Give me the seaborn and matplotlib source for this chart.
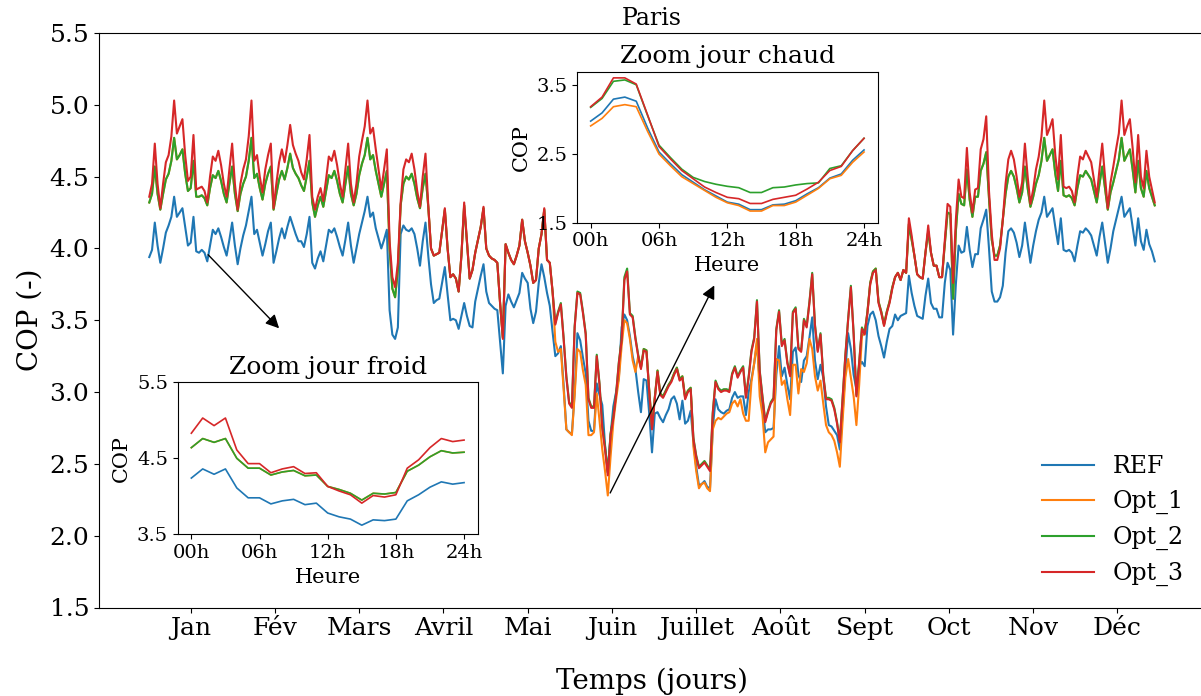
import numpy as np
import pandas as pd
import seaborn as sns
import matplotlib
matplotlib.use("Agg")
import matplotlib.pyplot as plt

# --- données journalières (COP moyen par jour) ---
ref_cop = [
    3.94, 3.99, 4.18, 4.02, 3.90, 4.00, 4.11, 4.16, 4.22, 4.36,
    4.22, 4.25, 4.28, 4.15, 4.02, 4.04, 4.22, 3.98, 3.97, 3.99,
    3.97, 3.91, 4.02, 4.13, 4.10, 4.14, 4.08, 4.01, 3.95, 4.06,
    4.18, 4.02, 3.89, 4.00, 4.09, 4.16, 4.26, 4.36, 4.10, 4.13,
    4.04, 3.95, 4.03, 4.12, 4.18, 3.90, 3.98, 4.07, 4.14, 4.07,
    4.15, 4.22, 4.16, 4.10, 4.05, 4.05, 4.01, 4.10, 4.22, 3.90,
    3.86, 3.93, 3.98, 3.91, 4.02, 4.13, 4.11, 4.14, 4.08, 4.01,
    3.95, 4.06, 4.18, 4.02, 3.90, 4.00, 4.10, 4.18, 4.26, 4.36,
    4.22, 4.25, 4.14, 4.07, 4.00, 4.06, 4.13, 3.57, 3.40, 3.37,
    3.45, 4.10, 4.16, 4.13, 4.12, 4.14, 4.10, 4.00, 3.88, 4.05,
    4.18, 3.95, 3.75, 3.62, 3.64, 3.65, 3.76, 3.87, 3.68, 3.50,
    3.51, 3.50, 3.44, 3.53, 3.62, 3.53, 3.46, 3.45, 3.63, 3.72,
    3.81, 3.89, 3.70, 3.62, 3.60, 3.58, 3.57, 3.35, 3.13, 3.60,
    3.68, 3.63, 3.59, 3.64, 3.69, 3.83, 3.79, 3.76, 3.58, 3.48,
    3.56, 3.76, 3.89, 3.80, 3.69, 3.60, 3.42, 3.25, 3.27, 3.32,
    3.05, 2.74, 2.72, 2.71, 3.00, 3.41, 3.36, 3.24, 3.13, 2.80,
    2.73, 2.73, 3.06, 2.98, 2.91, 2.63, 2.44, 2.70, 2.90, 3.00,
    3.10, 3.45, 3.54, 3.50, 3.39, 3.25, 3.16, 3.00, 2.86, 3.09,
    3.08, 2.85, 2.58, 2.85, 2.86, 2.82, 2.79, 2.84, 2.88, 2.95,
    2.97, 2.92, 2.81, 2.94, 2.78, 2.80, 2.87, 2.65, 2.48, 2.35,
    2.36, 2.38, 2.34, 2.33, 2.75, 2.95, 2.88, 2.86, 2.85, 2.87,
    2.88, 2.96, 3.00, 2.96, 2.97, 2.97, 2.84, 3.00, 3.09, 3.20,
    3.34, 3.07, 2.90, 2.72, 2.74, 2.74, 2.75, 3.12, 3.32, 3.11,
    3.17, 3.05, 2.95, 3.28, 3.31, 3.12, 3.07, 3.22, 3.25, 3.38,
    3.52, 3.22, 3.09, 3.19, 3.10, 2.90, 2.77, 2.76, 2.73, 2.70,
    2.60, 2.85, 3.15, 3.41, 3.30, 3.12, 3.02, 3.18, 3.21, 3.18,
    3.46, 3.54, 3.56, 3.50, 3.39, 3.32, 3.24, 3.35, 3.44, 3.46,
    3.54, 3.50, 3.53, 3.54, 3.55, 3.81, 3.69, 3.60, 3.53, 3.52,
    3.51, 3.67, 3.79, 3.62, 3.58, 3.58, 3.52, 3.52, 3.76, 3.90,
    3.85, 3.40, 3.75, 4.02, 3.97, 3.98, 4.15, 3.99, 3.87, 3.96,
    3.96, 4.14, 4.20, 4.27, 4.00, 3.70, 3.63, 3.63, 3.66, 3.74,
    3.97, 4.12, 4.14, 4.11, 4.04, 3.94, 4.02, 4.18, 4.04, 3.90,
    4.02, 4.12, 4.20, 4.25, 4.36, 4.22, 4.25, 4.28, 4.15, 4.03,
    4.21, 3.99, 3.98, 3.99, 3.97, 3.91, 4.02, 4.12, 4.11, 4.14,
    4.12, 4.09, 4.02, 3.95, 4.08, 4.18, 4.04, 3.90, 4.00, 4.12,
    4.20, 4.28, 4.36, 4.22, 4.25, 4.28, 4.15, 4.02, 4.21, 4.05,
    3.99, 4.13, 4.03, 3.98, 3.91,
]

opt1_cop = [
    4.32, 4.38, 4.57, 4.38, 4.27, 4.38, 4.48, 4.52, 4.61, 4.77,
    4.62, 4.65, 4.69, 4.52, 4.40, 4.42, 4.61, 4.36, 4.36, 4.37,
    4.35, 4.30, 4.42, 4.51, 4.49, 4.54, 4.47, 4.38, 4.32, 4.45,
    4.57, 4.38, 4.26, 4.38, 4.45, 4.50, 4.61, 4.77, 4.49, 4.52,
    4.42, 4.34, 4.45, 4.52, 4.57, 4.27, 4.38, 4.48, 4.54, 4.48,
    4.56, 4.66, 4.56, 4.52, 4.49, 4.44, 4.40, 4.50, 4.61, 4.32,
    4.22, 4.30, 4.36, 4.29, 4.40, 4.51, 4.49, 4.54, 4.47, 4.38,
    4.32, 4.45, 4.57, 4.38, 4.30, 4.38, 4.51, 4.59, 4.65, 4.77,
    4.62, 4.65, 4.54, 4.45, 4.36, 4.45, 4.54, 4.00, 3.72, 3.66,
    3.85, 4.30, 4.45, 4.50, 4.48, 4.52, 4.45, 4.35, 4.28, 4.42,
    4.52, 4.29, 4.00, 3.95, 3.96, 3.97, 4.12, 4.27, 4.00, 3.80,
    3.82, 3.79, 3.70, 3.95, 4.30, 4.05, 3.79, 3.85, 3.97, 4.06,
    4.15, 4.28, 4.00, 3.95, 3.93, 3.92, 3.90, 3.62, 3.38, 4.03,
    3.97, 3.92, 3.89, 3.95, 4.02, 4.20, 4.05, 3.97, 3.88, 3.76,
    3.78, 4.00, 4.10, 4.27, 3.92, 3.90, 3.70, 3.35, 3.28, 3.30,
    3.02, 2.74, 2.72, 2.70, 2.98, 3.30, 3.28, 3.15, 3.05, 2.70,
    2.70, 2.72, 2.99, 2.80, 2.60, 2.45, 2.28, 2.55, 2.79, 2.95,
    3.09, 3.32, 3.50, 3.48, 3.37, 3.22, 3.14, 3.25, 3.17, 3.30,
    3.29, 3.01, 2.76, 2.96, 3.15, 2.99, 2.97, 3.01, 3.05, 3.08,
    3.13, 3.17, 3.09, 3.11, 2.96, 3.01, 3.03, 2.62, 2.45, 2.33,
    2.36, 2.37, 2.33, 2.31, 2.74, 2.80, 2.82, 2.81, 2.83, 2.85,
    2.86, 2.92, 2.94, 2.90, 2.95, 2.85, 2.80, 2.80, 3.07, 3.20,
    3.37, 2.97, 2.84, 2.58, 2.65, 2.67, 2.69, 3.23, 3.22, 3.05,
    3.08, 2.95, 2.84, 3.19, 3.19, 2.99, 3.16, 3.14, 3.20, 3.37,
    3.30, 3.11, 3.01, 3.08, 2.92, 2.77, 2.72, 2.70, 2.66, 2.58,
    2.48, 2.80, 3.10, 3.23, 3.10, 2.97, 2.77, 3.05, 3.39, 3.41,
    3.56, 3.76, 3.84, 3.86, 3.63, 3.56, 3.47, 3.56, 3.63, 3.73,
    3.80, 3.83, 3.78, 3.85, 3.83, 4.17, 4.06, 3.95, 3.82, 3.80,
    3.79, 3.97, 4.12, 3.97, 3.88, 3.88, 3.80, 3.80, 4.03, 4.25,
    4.24, 3.65, 4.12, 4.38, 4.31, 4.30, 4.55, 4.34, 4.22, 4.36,
    4.36, 4.54, 4.59, 4.67, 4.35, 4.06, 3.95, 3.95, 4.02, 4.20,
    4.38, 4.50, 4.54, 4.50, 4.42, 4.32, 4.39, 4.57, 4.42, 4.29,
    4.36, 4.45, 4.51, 4.61, 4.77, 4.61, 4.65, 4.69, 4.52, 4.40,
    4.61, 4.37, 4.36, 4.37, 4.35, 4.30, 4.42, 4.51, 4.50, 4.54,
    4.51, 4.48, 4.40, 4.32, 4.45, 4.57, 4.42, 4.27, 4.39, 4.46,
    4.54, 4.62, 4.77, 4.61, 4.65, 4.69, 4.55, 4.39, 4.61, 4.42,
    4.36, 4.54, 4.42, 4.36, 4.30,
]

opt2_cop = [
    4.32, 4.38, 4.57, 4.38, 4.27, 4.38, 4.48, 4.52, 4.61, 4.77,
    4.62, 4.65, 4.69, 4.52, 4.40, 4.42, 4.61, 4.36, 4.36, 4.37,
    4.35, 4.30, 4.42, 4.51, 4.49, 4.54, 4.47, 4.38, 4.32, 4.45,
    4.57, 4.38, 4.26, 4.38, 4.45, 4.50, 4.61, 4.77, 4.49, 4.52,
    4.42, 4.34, 4.45, 4.52, 4.57, 4.27, 4.38, 4.48, 4.54, 4.48,
    4.56, 4.66, 4.56, 4.52, 4.49, 4.44, 4.40, 4.50, 4.61, 4.32,
    4.22, 4.30, 4.36, 4.29, 4.40, 4.51, 4.49, 4.54, 4.47, 4.38,
    4.32, 4.45, 4.57, 4.38, 4.30, 4.38, 4.51, 4.59, 4.65, 4.77,
    4.62, 4.65, 4.54, 4.45, 4.36, 4.45, 4.54, 4.00, 3.72, 3.66,
    3.85, 4.30, 4.45, 4.50, 4.48, 4.52, 4.45, 4.35, 4.28, 4.42,
    4.52, 4.29, 4.00, 3.95, 3.96, 3.97, 4.12, 4.27, 4.00, 3.80,
    3.82, 3.79, 3.70, 3.95, 4.30, 4.05, 3.79, 3.85, 3.97, 4.06,
    4.15, 4.28, 4.00, 3.95, 3.93, 3.92, 3.90, 3.62, 3.38, 4.03,
    3.97, 3.92, 3.89, 3.95, 4.02, 4.20, 4.05, 3.97, 3.88, 3.76,
    3.78, 4.00, 4.10, 4.27, 3.92, 3.90, 3.70, 3.48, 3.56, 3.62,
    3.38, 3.11, 2.93, 2.90, 3.46, 3.70, 3.69, 3.56, 3.41, 2.96,
    2.90, 2.90, 3.26, 3.06, 2.76, 2.62, 2.44, 2.71, 2.83, 2.99,
    3.21, 3.37, 3.80, 3.86, 3.55, 3.53, 3.38, 3.26, 3.17, 3.30,
    3.29, 3.01, 2.76, 2.96, 3.15, 2.99, 2.97, 3.01, 3.05, 3.08,
    3.13, 3.17, 3.09, 3.11, 2.96, 3.01, 3.03, 2.68, 2.56, 2.48,
    2.50, 2.52, 2.49, 2.46, 2.86, 3.08, 3.03, 3.01, 3.02, 3.02,
    3.01, 3.13, 3.18, 3.11, 3.15, 3.18, 2.97, 3.11, 3.29, 3.38,
    3.64, 3.15, 2.97, 2.80, 2.87, 2.93, 2.96, 3.44, 3.57, 3.33,
    3.37, 3.21, 3.12, 3.56, 3.59, 3.31, 3.29, 3.51, 3.46, 3.63,
    3.83, 3.47, 3.29, 3.41, 3.12, 2.96, 2.96, 2.95, 2.89, 2.79,
    2.66, 2.96, 3.26, 3.51, 3.74, 3.41, 2.98, 3.21, 3.45, 3.41,
    3.56, 3.76, 3.84, 3.86, 3.63, 3.56, 3.47, 3.56, 3.63, 3.73,
    3.80, 3.83, 3.78, 3.85, 3.83, 4.17, 4.06, 3.95, 3.82, 3.80,
    3.79, 3.97, 4.12, 3.97, 3.88, 3.88, 3.80, 3.80, 4.03, 4.25,
    4.24, 3.65, 4.12, 4.38, 4.31, 4.30, 4.55, 4.34, 4.22, 4.36,
    4.36, 4.54, 4.59, 4.67, 4.35, 4.06, 3.95, 3.95, 4.02, 4.20,
    4.38, 4.50, 4.54, 4.50, 4.42, 4.32, 4.39, 4.57, 4.42, 4.29,
    4.36, 4.45, 4.51, 4.61, 4.77, 4.61, 4.65, 4.69, 4.52, 4.40,
    4.61, 4.37, 4.36, 4.37, 4.35, 4.30, 4.42, 4.51, 4.50, 4.54,
    4.51, 4.48, 4.40, 4.32, 4.45, 4.57, 4.42, 4.27, 4.39, 4.46,
    4.54, 4.62, 4.77, 4.61, 4.65, 4.69, 4.55, 4.39, 4.61, 4.42,
    4.36, 4.54, 4.42, 4.36, 4.30,
]

opt3_cop = [
    4.36, 4.45, 4.73, 4.45, 4.28, 4.45, 4.60, 4.65, 4.78, 5.03,
    4.80, 4.85, 4.90, 4.65, 4.47, 4.50, 4.79, 4.41, 4.42, 4.43,
    4.40, 4.32, 4.50, 4.64, 4.61, 4.68, 4.58, 4.45, 4.36, 4.55,
    4.73, 4.45, 4.27, 4.45, 4.55, 4.62, 4.78, 5.03, 4.61, 4.65,
    4.50, 4.39, 4.55, 4.65, 4.73, 4.28, 4.45, 4.60, 4.69, 4.60,
    4.72, 4.86, 4.72, 4.66, 4.61, 4.53, 4.48, 4.62, 4.79, 4.36,
    4.27, 4.36, 4.42, 4.33, 4.48, 4.64, 4.61, 4.68, 4.58, 4.45,
    4.36, 4.55, 4.73, 4.45, 4.32, 4.45, 4.64, 4.75, 4.85, 5.03,
    4.80, 4.84, 4.69, 4.55, 4.41, 4.55, 4.69, 4.05, 3.80, 3.73,
    3.90, 4.32, 4.55, 4.62, 4.60, 4.66, 4.55, 4.40, 4.29, 4.50,
    4.66, 4.30, 4.00, 3.95, 3.96, 3.97, 4.12, 4.28, 4.00, 3.80,
    3.82, 3.79, 3.70, 3.95, 4.32, 4.05, 3.79, 3.85, 3.97, 4.06,
    4.15, 4.29, 4.00, 3.95, 3.93, 3.92, 3.90, 3.62, 3.37, 4.03,
    3.97, 3.92, 3.89, 3.95, 4.02, 4.20, 4.05, 3.97, 3.88, 3.76,
    3.78, 4.00, 4.10, 4.28, 3.92, 3.90, 3.70, 3.47, 3.55, 3.61,
    3.37, 3.10, 2.92, 2.89, 3.45, 3.69, 3.68, 3.55, 3.40, 2.95,
    2.89, 2.89, 3.25, 3.05, 2.75, 2.60, 2.42, 2.70, 2.82, 2.98,
    3.20, 3.36, 3.78, 3.84, 3.54, 3.52, 3.37, 3.25, 3.16, 3.29,
    3.28, 3.00, 2.74, 2.95, 3.14, 2.98, 2.96, 3.00, 3.04, 3.07,
    3.12, 3.16, 3.08, 3.10, 2.95, 3.00, 3.02, 2.67, 2.55, 2.47,
    2.49, 2.51, 2.48, 2.45, 2.85, 3.07, 3.02, 3.00, 3.01, 3.01,
    3.00, 3.12, 3.17, 3.10, 3.14, 3.17, 2.96, 3.10, 3.28, 3.37,
    3.63, 3.14, 2.96, 2.79, 2.86, 2.92, 2.95, 3.43, 3.56, 3.32,
    3.36, 3.20, 3.11, 3.55, 3.58, 3.30, 3.28, 3.50, 3.45, 3.62,
    3.82, 3.46, 3.28, 3.40, 3.11, 2.95, 2.95, 2.94, 2.88, 2.78,
    2.65, 2.95, 3.25, 3.50, 3.73, 3.40, 2.97, 3.20, 3.44, 3.40,
    3.55, 3.75, 3.83, 3.85, 3.62, 3.55, 3.46, 3.55, 3.62, 3.72,
    3.80, 3.83, 3.78, 3.85, 3.83, 4.21, 4.09, 3.95, 3.82, 3.80,
    3.79, 3.97, 4.16, 3.97, 3.88, 3.88, 3.80, 3.80, 4.06, 4.31,
    4.29, 3.76, 4.20, 4.48, 4.36, 4.35, 4.70, 4.39, 4.25, 4.41,
    4.42, 4.69, 4.76, 4.92, 4.40, 4.10, 3.92, 3.92, 4.00, 4.20,
    4.45, 4.62, 4.68, 4.62, 4.50, 4.36, 4.46, 4.73, 4.50, 4.31,
    4.41, 4.55, 4.64, 4.78, 5.03, 4.79, 4.84, 4.90, 4.65, 4.48,
    4.79, 4.43, 4.42, 4.43, 4.40, 4.32, 4.50, 4.64, 4.62, 4.68,
    4.64, 4.60, 4.48, 4.36, 4.55, 4.73, 4.50, 4.28, 4.46, 4.57,
    4.69, 4.80, 5.03, 4.79, 4.85, 4.90, 4.70, 4.46, 4.79, 4.50,
    4.42, 4.68, 4.50, 4.41, 4.32,
]

mois = ["Jan", "Fév", "Mars", "Avril", "Mai", "Juin",
        "Juillet", "Août", "Sept", "Oct", "Nov", "Déc"]

# --- zoom horaire : jour chaud ---
heures_lbl = ["00h", "06h", "12h", "18h", "24h"]
chaud_ref = [2.98, 3.10, 3.30, 3.33, 3.27, 2.88, 2.53, 2.36, 2.20, 2.09, 1.98, 1.89, 1.80,
             1.77, 1.69, 1.69, 1.76, 1.77, 1.82, 1.92, 2.01, 2.15, 2.21, 2.41, 2.56]
chaud_opt1 = [2.91, 3.02, 3.19, 3.22, 3.19, 2.83, 2.50, 2.33, 2.17, 2.07, 1.97, 1.87, 1.79,
              1.75, 1.67, 1.67, 1.75, 1.75, 1.80, 1.90, 2.00, 2.14, 2.19, 2.38, 2.53]
chaud_opt2 = [3.18, 3.31, 3.56, 3.58, 3.51, 3.06, 2.63, 2.45, 2.28, 2.16, 2.10, 2.06, 2.03,
              2.01, 1.94, 1.94, 2.01, 2.02, 2.05, 2.07, 2.08, 2.29, 2.33, 2.55, 2.73]
chaud_opt3 = [3.19, 3.33, 3.61, 3.61, 3.52, 3.07, 2.61, 2.43, 2.26, 2.14, 2.02, 1.94, 1.87,
              1.85, 1.78, 1.78, 1.84, 1.87, 1.90, 1.99, 2.09, 2.26, 2.32, 2.55, 2.73]

# --- zoom horaire : jour froid ---
froid_ref = [4.24, 4.36, 4.29, 4.36, 4.11, 3.98, 3.98, 3.90, 3.94, 3.96, 3.89, 3.91, 3.78,
             3.73, 3.70, 3.62, 3.69, 3.68, 3.70, 3.94, 4.02, 4.12, 4.19, 4.16, 4.18]
froid_opt1 = [4.64, 4.76, 4.71, 4.76, 4.50, 4.37, 4.37, 4.28, 4.32, 4.34, 4.27, 4.28, 4.13,
              4.09, 4.04, 3.95, 4.04, 4.03, 4.05, 4.33, 4.41, 4.52, 4.60, 4.57, 4.58]
froid_opt2 = [4.64, 4.76, 4.71, 4.76, 4.50, 4.37, 4.37, 4.28, 4.32, 4.34, 4.27, 4.28, 4.13,
              4.09, 4.04, 3.95, 4.04, 4.03, 4.05, 4.33, 4.41, 4.52, 4.60, 4.57, 4.58]
froid_opt3 = [4.83, 5.03, 4.93, 5.03, 4.61, 4.43, 4.43, 4.31, 4.36, 4.39, 4.30, 4.31, 4.13,
              4.07, 4.02, 3.91, 4.01, 3.99, 4.02, 4.37, 4.48, 4.64, 4.76, 4.72, 4.74]

noms = ["REF", "Opt_1", "Opt_2", "Opt_3"]
couleurs = ["#1f77b4", "#ff7f0e", "#2ca02c", "#d62728"]

plt.rcParams['font.family'] = ['DejaVu Serif']

fig = plt.figure(figsize=(12.01, 6.96), dpi=100)
# l'axe principal déborde légèrement à droite (comme sur l'original rogné)
ax = fig.add_axes([99 / 1201, 88.5 / 696, 1106 / 1201, 574.5 / 696])

jours = np.arange(len(ref_cop))
for nom, serie, c in zip(noms, [ref_cop, opt1_cop, opt2_cop, opt3_cop], couleurs):
    sns.lineplot(x=jours, y=serie, color=c, label=nom, linewidth=1.5, ax=ax)

ax.set_ylim(1.5, 5.5)
ax.set_yticks(np.arange(1.5, 5.51, 0.5))
ax.set_xticks([15 + 30.5 * k for k in range(12)])
ax.set_xticklabels(mois)
ax.tick_params(labelsize=18)
ax.set_ylabel("COP (-)", fontsize=20)
ax.set_xlabel("Temps (jours)", fontsize=20, labelpad=20)
ax.set_title("Paris", fontsize=17)
ax.legend(loc="lower right", frameon=False, fontsize=17, handlelength=2.2)

# flèches vers les zooms
fl = dict(arrowstyle="-|>", color="black", lw=1, mutation_scale=20)
ax.annotate("", xy=(47.7, 3.43), xytext=(20.6, 3.97), arrowprops=fl)
ax.annotate("", xy=(205, 3.76), xytext=(166.4, 2.28), arrowprops=fl)

heures = np.arange(len(chaud_ref))


def inset(rect, series, titre, ylim, yticks):
    a = fig.add_axes(rect)
    for serie, c in zip(series, couleurs):
        sns.lineplot(x=heures, y=serie, color=c, linewidth=1.2, ax=a)
    a.set_ylim(*ylim)
    a.set_yticks(yticks)
    a.set_xticks([0, 6, 12, 18, 24])
    a.set_xticklabels(heures_lbl)
    a.tick_params(labelsize=14)
    a.set_title(titre, fontsize=18)
    a.set_xlabel("Heure", fontsize=15)
    a.set_ylabel("COP", fontsize=15)
    return a


inset([577 / 1201, 473.3 / 696, 300.7 / 1201, 151 / 696],
      [chaud_ref, chaud_opt1, chaud_opt2, chaud_opt3],
      "Zoom jour chaud", (1.5, 3.7), [1.5, 2.5, 3.5])
inset([177.7 / 1201, 161.7 / 696, 300 / 1201, 152 / 696],
      [froid_ref, froid_opt1, froid_opt2, froid_opt3],
      "Zoom jour froid", (3.5, 5.5), [3.5, 4.5, 5.5])

fig.savefig("out.png", dpi=100)
